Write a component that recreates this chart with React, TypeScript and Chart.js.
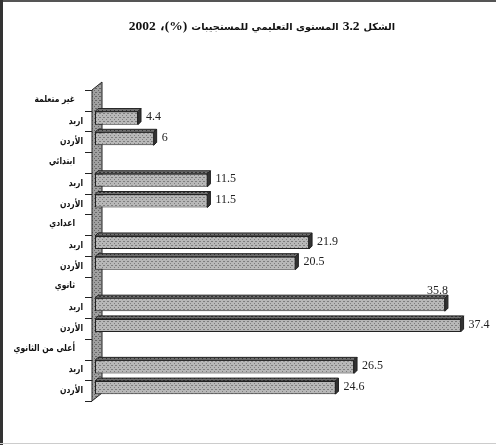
import { useEffect, useRef } from "react";
import { Chart, registerables } from "chart.js";

Chart.register(...registerables);

const TITLE_PREFIX = "الشكل";
const TITLE_NUMBER = "3.2";
const TITLE_TEXT = "المستوى التعليمي للمستجيبات";
const TITLE_UNIT = "(%)،";
const TITLE_YEAR = "2002";
const groups = ["غير متعلمة", "ابتدائي", "اعدادي", "ثانوي", "أعلى من الثانوي"];
const areas = ["اربد", "الأردن"];
const irbidValues = [4.4, 11.5, 21.9, 35.8, 26.5];
const jordanValues = [6, 11.5, 20.5, 37.4, 24.6];
const X_MIN = 0;
const X_MAX = 40;

const categoryLabels: string[] = [];
const values: (number | null)[] = [];
const isGroupRow: boolean[] = [];
groups.forEach((g, i) => {
  categoryLabels.push(g);
  values.push(null);
  isGroupRow.push(true);
  categoryLabels.push(areas[0]);
  values.push(irbidValues[i]);
  isGroupRow.push(false);
  categoryLabels.push(areas[1]);
  values.push(jordanValues[i]);
  isGroupRow.push(false);
});

function makePattern(ctx: CanvasRenderingContext2D, base: string, dot: string) {
  const c = document.createElement("canvas");
  c.width = 4;
  c.height = 4;
  const g = c.getContext("2d")!;
  g.fillStyle = base;
  g.fillRect(0, 0, 4, 4);
  g.fillStyle = dot;
  g.fillRect(0, 0, 1, 1);
  g.fillRect(2, 2, 1, 1);
  g.fillRect(3, 0, 1, 1);
  return ctx.createPattern(c, "repeat")!;
}

const SHIFT = -3;
const DEPTH = 3;

export default function App() {
  const ref = useRef<HTMLCanvasElement>(null);
  useEffect(() => {
    const canvas = ref.current!;
    const ctx = canvas.getContext("2d")!;
    const barPattern = makePattern(ctx, "#b8b8b8", "#7e7e7e");
    const topPattern = makePattern(ctx, "#707070", "#333333");
    const wallPattern = makePattern(ctx, "#a0a0a0", "#666666");

    const threeD = {
      id: "threeD",
      beforeDatasetsDraw(chart: any) {
        const c = chart.ctx as CanvasRenderingContext2D;
        const { top, bottom, left } = chart.chartArea;
        const wx = left - 3;
        c.save();
        c.beginPath();
        c.moveTo(wx, top);
        c.lineTo(wx + 10, top - 8);
        c.lineTo(wx + 10, bottom - 8);
        c.lineTo(wx, bottom);
        c.closePath();
        c.fillStyle = wallPattern;
        c.fill();
        c.strokeStyle = "#222";
        c.lineWidth = 1;
        c.stroke();
        const ys = chart.scales.y;
        c.beginPath();
        for (let i = 0; i <= categoryLabels.length; i++) {
          const y = Math.round(ys.getPixelForValue(i - 0.5)) + 0.5;
          c.moveTo(wx - 7, y);
          c.lineTo(wx, y);
        }
        c.strokeStyle = "#222";
        c.stroke();
        c.restore();
        c.save();
        c.translate(0, SHIFT);
      },
      afterDatasetsDraw(chart: any) {
        const c = chart.ctx as CanvasRenderingContext2D;
        c.restore();
        const meta = chart.getDatasetMeta(0);
        c.save();
        meta.data.forEach((el: any, i: number) => {
          const v = values[i];
          if (v == null) return;
          const p = el.getProps(["x", "y", "base", "height"], true);
          const yT = p.y - p.height / 2 + SHIFT;
          const yB = p.y + p.height / 2 + SHIFT;
          const x0 = p.base;
          const x1 = p.x;
          c.beginPath();
          c.moveTo(x0, yT);
          c.lineTo(x0 + DEPTH, yT - DEPTH);
          c.lineTo(x1 + DEPTH, yT - DEPTH);
          c.lineTo(x1, yT);
          c.closePath();
          c.fillStyle = topPattern;
          c.fill();
          c.strokeStyle = "#222";
          c.lineWidth = 1;
          c.stroke();
          c.beginPath();
          c.moveTo(x1, yT);
          c.lineTo(x1 + DEPTH, yT - DEPTH);
          c.lineTo(x1 + DEPTH, yB - DEPTH);
          c.lineTo(x1, yB);
          c.closePath();
          c.fillStyle = "#333";
          c.fill();
          c.stroke();
          c.font = "12px 'Liberation Serif', 'DejaVu Serif', serif";
          c.fillStyle = "#222";
          const txt = String(v);
          if (v === 35.8) {
            c.textAlign = "right";
            c.textBaseline = "bottom";
            c.fillText(txt, x1 + 3, yT - 1);
          } else {
            c.textAlign = "left";
            c.textBaseline = "middle";
            c.fillText(txt, x1 + 8, (yT + yB) / 2 - 1);
          }
        });
        const ys = chart.scales.y;
        const wx = chart.chartArea.left - 3;
        c.fillStyle = "#111";
        c.font = "bold 9.5px 'DejaVu Sans', sans-serif";
        c.textBaseline = "middle";
        c.textAlign = "right";
        const sx = 0.8;
        categoryLabels.forEach((lab, i) => {
          const y = ys.getPixelForValue(i);
          const xr = isGroupRow[i] ? wx - 17 : wx - 9;
          c.save();
          c.translate(xr, isGroupRow[i] ? y - 1 : y);
          c.scale(sx, 1);
          c.fillText(lab, 0, 0);
          c.restore();
        });
        c.restore();
      },
    };

    const chart = new Chart(canvas, {
      type: "bar",
      data: {
        labels: categoryLabels,
        datasets: [
          {
            data: values,
            backgroundColor: barPattern,
            borderColor: "#222",
            borderWidth: 1,
            borderSkipped: false,
            barPercentage: 0.63,
            categoryPercentage: 1,
            clip: false as any,
          },
        ],
      },
      options: {
        indexAxis: "y",
        responsive: false,
        animation: false,
        devicePixelRatio: 1,
        layout: { padding: { left: 95, right: 10, top: 90, bottom: 44 } },
        plugins: { legend: { display: false }, tooltip: { enabled: false }, title: { display: false } },
        scales: {
          x: { display: false, min: X_MIN, max: X_MAX },
          y: { display: false, offset: true },
        },
      },
      plugins: [threeD],
    });
    return () => chart.destroy();
  }, []);

  const ar = { font: "bold 9.8px 'DejaVu Sans', sans-serif" } as const;
  const num = { font: "bold 13.5px 'Liberation Serif', serif" } as const;

  return (
    <div style={{ position: "fixed", left: 0, top: 0, width: 496, height: 445, background: "#fff", overflow: "hidden" }}>
      <canvas ref={ref} width={496} height={445} style={{ position: "absolute", left: 0, top: 0 }} />
      <div
        dir="rtl"
        style={{
          position: "absolute",
          right: 101,
          top: 16,
          whiteSpace: "nowrap",
          color: "#111",
          lineHeight: "18px",
        }}
      >
        <span style={ar}>{TITLE_PREFIX}</span> <span style={num}>{TITLE_NUMBER}</span>{" "}
        <span style={ar}>{TITLE_TEXT}</span> <span style={num}>{TITLE_UNIT}</span>{" "}
        <span style={num}>{TITLE_YEAR}</span>
      </div>
      <div style={{ position: "absolute", left: 0, top: 0, width: 496, height: 2, background: "#555" }} />
      <div style={{ position: "absolute", left: 0, top: 0, width: 3, height: 445, background: "#333" }} />
      <div style={{ position: "absolute", left: 0, top: 443, width: 496, height: 1, background: "#ccc" }} />
    </div>
  );
}
